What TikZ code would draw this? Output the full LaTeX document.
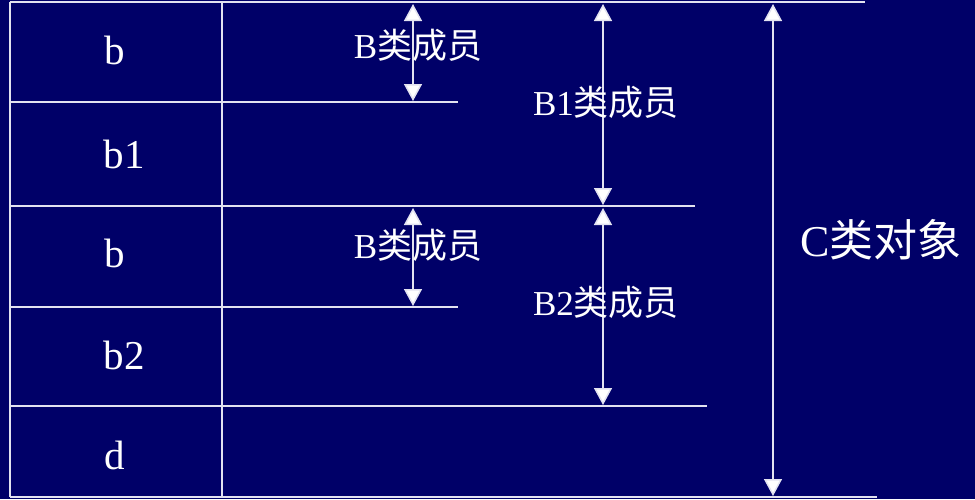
\documentclass[tikz,border=0pt]{standalone}
\usepackage{fontspec}
\setmainfont{Liberation Serif}
\newfontfamily\cjk{Noto Sans CJK SC}
\usetikzlibrary{arrows.meta}
\definecolor{bg}{RGB}{0,0,104}
\definecolor{ln}{RGB}{226,226,240}
\tikzset{
  sep/.style={draw=ln, line width=2pt},
  dim/.style={draw=ln, line width=1.5pt, {Triangle[width=18pt,length=17pt,fill=white]}-{Triangle[width=18pt,length=17pt,fill=white]}},
  cell/.style={text=white, font=\fontsize{41}{41}\selectfont, inner sep=0pt},
  lab/.style={text=white, font=\fontsize{35}{35}\selectfont, inner sep=0pt},
  big/.style={text=white, font=\fontsize{44}{44}\selectfont, inner sep=0pt}
}
\begin{document}
\begin{tikzpicture}[x=1pt,y=-1pt]
\fill[bg] (0,0) rectangle (975,499);
\useasboundingbox (0,0) rectangle (975,499);
% frame lines
\draw[sep] (10,2) -- (865,2);
\draw[sep] (10,102) -- (458,102);
\draw[sep] (10,206) -- (695,206);
\draw[sep] (10,307) -- (458,307);
\draw[sep] (10,406) -- (707,406);
\draw[sep] (10,497) -- (877,497);
\draw[sep] (10,2) -- (10,497);
\draw[sep] (222,2) -- (222,497);
% cell labels
\node[cell] (c1) at (115,50) {b};
\node[cell] (c2) at (124,154) {b1};
\node[cell] (c3) at (115,253) {b};
\node[cell] (c4) at (124,355) {b2};
\node[cell] (c5) at (115,455) {d};
% arrow end points
\coordinate (a1t) at (413,4);
\coordinate (a1b) at (413,101);
\coordinate (a2t) at (413,208);
\coordinate (a2b) at (413,306);
\coordinate (a3t) at (603,4);
\coordinate (a3b) at (603,205);
\coordinate (a4t) at (603,208);
\coordinate (a4b) at (603,405);
\coordinate (a5t) at (773,4);
\coordinate (a5b) at (773,496);
\draw[dim] (a1t) -- (a1b);
\draw[dim] (a2t) -- (a2b);
\draw[dim] (a3t) -- (a3b);
\draw[dim] (a4t) -- (a4b);
\draw[dim] (a5t) -- (a5b);
% labels
\node[lab] (l1) at (418,45) {B{\cjk 类成员}};
\node[lab] (l2) at (606,102) {B1{\cjk 类成员}};
\node[lab] (l3) at (418,245) {B{\cjk 类成员}};
\node[lab] (l4) at (606,302) {B2{\cjk 类成员}};
\node[big] (l5) at (881,240) {C{\cjk 类对象}};
\end{tikzpicture}
\end{document}
